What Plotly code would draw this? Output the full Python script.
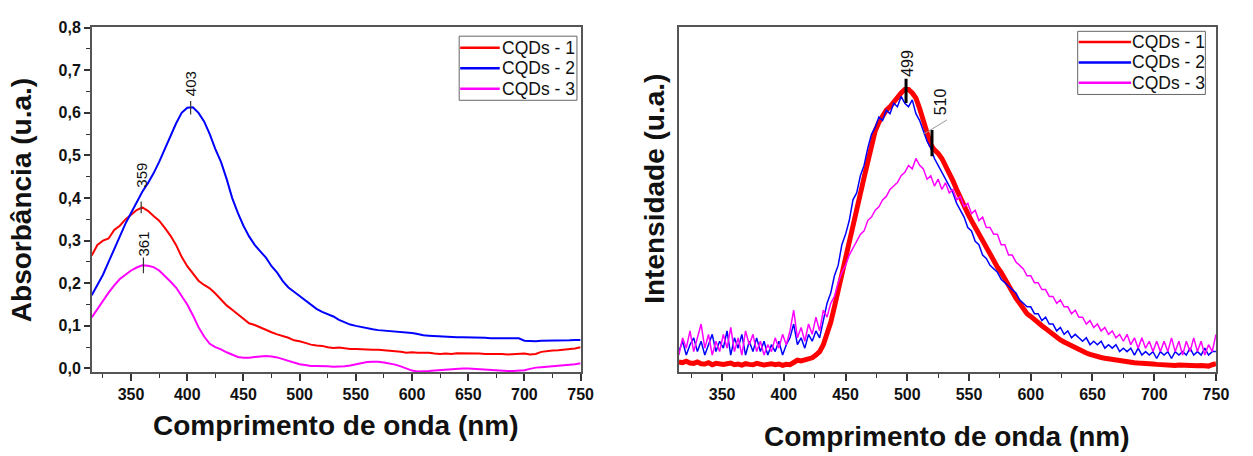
import plotly.graph_objects as go

# ---------------- data ----------------
wl_abs = list(range(315, 755, 5))
abs_cqd1 = [0.265, 0.29, 0.30, 0.305, 0.325, 0.335, 0.35, 0.36, 0.372, 0.378,
            0.37, 0.358, 0.347, 0.33, 0.312, 0.29, 0.262, 0.24, 0.222, 0.206,
            0.196, 0.188, 0.176, 0.162, 0.148, 0.138, 0.128, 0.118, 0.106, 0.102,
            0.096, 0.09, 0.085, 0.08, 0.076, 0.072, 0.066, 0.064, 0.06, 0.056,
            0.054, 0.053, 0.05, 0.048, 0.049, 0.047, 0.046, 0.046, 0.045, 0.045,
            0.044, 0.044, 0.043, 0.042, 0.041, 0.039, 0.037, 0.038, 0.037, 0.037,
            0.037, 0.035, 0.034, 0.035, 0.034, 0.036, 0.036, 0.035, 0.036, 0.035,
            0.034, 0.034, 0.035, 0.034, 0.033, 0.034, 0.035, 0.035, 0.033, 0.034,
            0.039, 0.041, 0.042, 0.043, 0.044, 0.046, 0.047, 0.05]
abs_cqd2 = [0.172, 0.195, 0.22, 0.25, 0.28, 0.31, 0.34, 0.365, 0.39, 0.415,
            0.435, 0.458, 0.485, 0.515, 0.545, 0.575, 0.6, 0.612, 0.613, 0.6,
            0.58, 0.55, 0.515, 0.485, 0.445, 0.4, 0.365, 0.335, 0.31, 0.29,
            0.275, 0.26, 0.24, 0.225, 0.205, 0.19, 0.18, 0.17, 0.16, 0.15,
            0.14, 0.133, 0.127, 0.122, 0.114, 0.108, 0.103, 0.1, 0.097, 0.094,
            0.092, 0.09, 0.089, 0.087, 0.086, 0.085, 0.084, 0.083, 0.081, 0.078,
            0.077, 0.076, 0.075, 0.074, 0.074, 0.073, 0.073, 0.073, 0.072, 0.072,
            0.072, 0.071, 0.071, 0.071, 0.071, 0.071, 0.071, 0.065, 0.064, 0.064,
            0.065, 0.065, 0.065, 0.066, 0.066, 0.066, 0.067, 0.067]
abs_cqd3 = [0.12, 0.14, 0.16, 0.178, 0.195, 0.21, 0.22, 0.23, 0.237, 0.242,
            0.241, 0.238, 0.23, 0.218, 0.204, 0.19, 0.17, 0.15, 0.125, 0.097,
            0.075, 0.058, 0.05, 0.045, 0.038, 0.032, 0.027, 0.025, 0.025, 0.027,
            0.028, 0.029, 0.028, 0.026, 0.022, 0.018, 0.014, 0.01, 0.008, 0.006,
            0.006, 0.006, 0.005, 0.004, 0.004, 0.005, 0.007, 0.01, 0.013, 0.015,
            0.016, 0.016, 0.014, 0.012, 0.009, 0.005, 0.0, -0.005, -0.007, -0.007,
            -0.006, -0.005, -0.004, -0.003, -0.001, 0.0, 0.0, 0.0, -0.001, -0.002,
            -0.003, -0.004, -0.005, -0.005, -0.006, -0.006, -0.005, -0.004, -0.001, 0.002,
            0.003, 0.004, 0.005, 0.006, 0.007, 0.008, 0.01, 0.012]

abs_peak_x = [359, 403, 361]
abs_peak_y = [0.378, 0.612, 0.242]
abs_peak_lbl = ["359", "403", "361"]

wl_pl = list(range(315, 753, 3))
pl_cqd1 = [0.03, 0.028, 0.032, 0.027, 0.026, 0.03, 0.025, 0.024, 0.028, 0.022,
           0.026, 0.024, 0.023, 0.025, 0.027, 0.022, 0.024, 0.021, 0.025, 0.023,
           0.022, 0.026, 0.024, 0.021, 0.023, 0.025, 0.022, 0.024, 0.02, 0.023,
           0.022, 0.03, 0.035, 0.033, 0.035, 0.038, 0.042, 0.05, 0.06, 0.08,
           0.11, 0.145, 0.19, 0.235, 0.285, 0.33, 0.375, 0.42, 0.47, 0.52,
           0.565, 0.61, 0.66, 0.7, 0.725, 0.745, 0.76, 0.77, 0.785, 0.8,
           0.81, 0.82, 0.82, 0.81, 0.795, 0.765, 0.73, 0.69, 0.66, 0.645,
           0.635, 0.62, 0.6, 0.575, 0.555, 0.53, 0.505, 0.48, 0.46, 0.44,
           0.42, 0.4, 0.38, 0.36, 0.345, 0.325, 0.305, 0.29, 0.27, 0.25,
           0.235, 0.215, 0.2, 0.185, 0.17, 0.162, 0.152, 0.143, 0.135, 0.127,
           0.118, 0.11, 0.102, 0.094, 0.088, 0.082, 0.077, 0.071, 0.066, 0.061,
           0.056, 0.052, 0.048, 0.046, 0.043, 0.041, 0.039, 0.037, 0.036, 0.034,
           0.032, 0.03, 0.03, 0.028, 0.027, 0.027, 0.025, 0.024, 0.024, 0.023,
           0.022, 0.022, 0.021, 0.021, 0.02, 0.021, 0.02, 0.02, 0.019, 0.02,
           0.019, 0.02, 0.019, 0.018, 0.022, 0.025]
pl_cqd2 = [0.06, 0.09, 0.05, 0.08, 0.1, 0.06, 0.09, 0.05, 0.08, 0.11,
           0.06, 0.09, 0.07, 0.12, 0.05, 0.1, 0.07, 0.11, 0.05, 0.09,
           0.06, 0.1, 0.06, 0.09, 0.05, 0.08, 0.06, 0.09, 0.05, 0.08,
           0.1, 0.14, 0.08, 0.1, 0.07, 0.11, 0.09, 0.12, 0.1, 0.15,
           0.2, 0.23, 0.28, 0.31, 0.37, 0.4, 0.44, 0.5, 0.52, 0.57,
           0.6, 0.65, 0.69, 0.71, 0.74, 0.73, 0.76, 0.75, 0.78, 0.77,
           0.8, 0.78, 0.77, 0.79, 0.75, 0.73, 0.7, 0.67, 0.65, 0.62,
           0.6, 0.58, 0.56, 0.54, 0.52, 0.49, 0.47, 0.45, 0.42, 0.41,
           0.38, 0.37, 0.34, 0.33, 0.31, 0.3, 0.29, 0.27, 0.26, 0.25,
           0.24, 0.23, 0.21, 0.2, 0.19, 0.19, 0.17, 0.17, 0.15, 0.16,
           0.14, 0.14, 0.12, 0.13, 0.11, 0.12, 0.1, 0.11, 0.1, 0.09,
           0.1, 0.08, 0.09, 0.08, 0.09, 0.07, 0.08, 0.07, 0.08, 0.06,
           0.07, 0.06, 0.07, 0.05, 0.07, 0.05, 0.06, 0.05, 0.06, 0.04,
           0.06, 0.05, 0.06, 0.04, 0.06, 0.05, 0.06, 0.05, 0.07, 0.05,
           0.06, 0.05, 0.07, 0.05, 0.06, 0.06]
pl_cqd3 = [0.05, 0.1, 0.07, 0.12, 0.06, 0.1, 0.14, 0.07, 0.11, 0.05,
           0.09, 0.06, 0.11, 0.07, 0.13, 0.06, 0.1, 0.05, 0.12, 0.08,
           0.11, 0.06, 0.09, 0.05, 0.08, 0.06, 0.1, 0.07, 0.11, 0.08,
           0.12, 0.18, 0.1, 0.13, 0.09, 0.14, 0.11, 0.16, 0.12, 0.18,
           0.16, 0.2, 0.22, 0.26, 0.29, 0.31, 0.34, 0.36, 0.38, 0.4,
           0.41, 0.44, 0.45, 0.47, 0.48, 0.5, 0.51, 0.53, 0.54, 0.55,
           0.57, 0.58, 0.6, 0.59, 0.62, 0.6, 0.59, 0.56, 0.57, 0.54,
           0.56, 0.53, 0.55, 0.52, 0.53, 0.5, 0.51, 0.48, 0.49, 0.46,
           0.47, 0.44, 0.45, 0.42, 0.42, 0.4, 0.4, 0.37, 0.37, 0.34,
           0.34, 0.32, 0.31, 0.3, 0.28, 0.28, 0.26, 0.26, 0.24, 0.24,
           0.22, 0.22, 0.2, 0.21, 0.19, 0.19, 0.17, 0.18, 0.16, 0.16,
           0.14, 0.15, 0.13, 0.14, 0.12, 0.13, 0.11, 0.12, 0.1, 0.11,
           0.09, 0.11, 0.08, 0.1, 0.07, 0.1, 0.07, 0.09, 0.06, 0.09,
           0.06, 0.09, 0.06, 0.1, 0.06, 0.09, 0.05, 0.09, 0.06, 0.1,
           0.06, 0.09, 0.05, 0.08, 0.06, 0.11]

pl_peak_x = [499, 520]
pl_peak_y = [0.82, 0.666]
pl_peak_lbl = ["499", "510"]

series_names = ["CQDs - 1", "CQDs - 2", "CQDs - 3"]
series_colors = ["#FF0000", "#0000FF", "#FF00FF"]

for s in (abs_cqd1, abs_cqd2, abs_cqd3):
    assert len(s) == len(wl_abs), len(s)
for s in (pl_cqd1, pl_cqd2, pl_cqd3):
    assert len(s) == len(wl_pl), len(s)

# ---------------- figure ----------------
W, H = 1253, 456
FONT = "Arial, Liberation Sans, sans-serif"
fig = go.Figure()

for name, col, ys in zip(series_names, series_colors, [abs_cqd1, abs_cqd2, abs_cqd3]):
    fig.add_trace(go.Scatter(x=wl_abs, y=ys, mode="lines", name=name,
                             line=dict(color=col, width=2), xaxis="x", yaxis="y",
                             showlegend=False))

pl_widths = [5, 1.5, 1.5]
for name, col, ys, w in zip(series_names, series_colors, [pl_cqd1, pl_cqd2, pl_cqd3], pl_widths):
    fig.add_trace(go.Scatter(x=wl_pl, y=ys, mode="lines", name=name,
                             line=dict(color=col, width=w), xaxis="x2", yaxis="y2",
                             showlegend=False))

# pixel geometry
Y_TOP, Y_BOT = 20, 375
L_X0, L_X1 = 92.7, 586.7
R_X0, R_X1 = 686, 1228.7
abs_range = [-0.009, 0.8005]
pl_range = [0, 1]
abs_px = (Y_BOT - Y_TOP) / (abs_range[1] - abs_range[0])
pl_px = (Y_BOT - Y_TOP) / (pl_range[1] - pl_range[0])

axis_common = dict(showline=True, linecolor="#555555", linewidth=1.5, mirror=True,
                   showgrid=False, zeroline=False)
xtick = dict(ticks="outside", ticklen=7, tickwidth=1.5, tickcolor="#333333",
             tickfont=dict(family=FONT, size=16, color="#111111", weight="bold"),
             tick0=350, dtick=50,
             minor=dict(ticks="outside", ticklen=4, tickwidth=1.2, tickcolor="#333333",
                        tick0=325, dtick=25))

fig.update_layout(
    width=W, height=H, margin=dict(l=0, r=0, t=0, b=0),
    paper_bgcolor="white", plot_bgcolor="white",
    separators=", ",
    showlegend=False,
    xaxis=dict(domain=[L_X0 / W, L_X1 / W], range=[315, 750], anchor="y",
               **axis_common, **xtick),
    yaxis=dict(domain=[(H - Y_BOT) / H, (H - Y_TOP) / H], range=abs_range, anchor="x",
               ticks="outside", ticklen=6, tickwidth=1.5, tickcolor="#333333",
               tickfont=dict(family=FONT, size=16, color="#111111", weight="bold"),
               tick0=0, dtick=0.1, tickformat=".1f",
               minor=dict(ticks="outside", ticklen=4, tickwidth=1.2, tickcolor="#333333",
                          tick0=0.05, dtick=0.1),
               **axis_common),
    xaxis2=dict(domain=[R_X0 / W, R_X1 / W], range=[315, 750], anchor="y2",
                **axis_common, **xtick),
    yaxis2=dict(domain=[(H - Y_BOT) / H, (H - Y_TOP) / H], range=pl_range, anchor="x2",
                showticklabels=False, ticks="", **axis_common),
)

# axis titles
title_font = dict(family=FONT, size=28, color="#111111", weight="bold")
fig.add_annotation(text="Absorbância (u.a.)", xref="paper", yref="paper",
                   x=22 / W, y=1 - 198 / H, textangle=-90, showarrow=False,
                   xanchor="center", yanchor="middle", font=title_font)
fig.add_annotation(text="Comprimento de onda (nm)", xref="paper", yref="paper",
                   x=(L_X0 + L_X1) / 2 / W, y=1 - 430 / H, showarrow=False,
                   xanchor="center", yanchor="middle", font=title_font)
fig.add_annotation(text="Intensidade (u.a.)", xref="paper", yref="paper",
                   x=662 / W, y=1 - 186 / H, textangle=-90, showarrow=False,
                   xanchor="center", yanchor="middle", font=title_font)
fig.add_annotation(text="Comprimento de onda (nm)", xref="paper", yref="paper",
                   x=(R_X0 + R_X1) / 2 / W, y=1 - 441 / H, showarrow=False,
                   xanchor="center", yanchor="middle", font=title_font)

# legends (drawn as boxes with sample lines and text, in pixel layout)
def draw_legend(box, rows_y, line_x, text_x, fsize):
    x0, y0, x1, y1 = box
    fig.add_shape(type="rect", xref="paper", yref="paper",
                  x0=x0 / W, x1=x1 / W, y0=1 - y1 / H, y1=1 - y0 / H,
                  line=dict(color="#666666", width=1), fillcolor="white", layer="above")
    for name, col, ry in zip(series_names, series_colors, rows_y):
        fig.add_shape(type="line", xref="paper", yref="paper",
                      x0=line_x[0] / W, x1=line_x[1] / W, y0=1 - ry / H, y1=1 - ry / H,
                      line=dict(color=col, width=2.5), layer="above")
        fig.add_annotation(text=name, xref="paper", yref="paper", x=text_x / W,
                           y=1 - ry / H, xanchor="left", yanchor="middle", showarrow=False,
                           font=dict(family=FONT, size=fsize, color="#111111"))

draw_legend((464, 29, 583, 95), [41, 62, 83], (465, 505), 505, 17.5)
draw_legend((1089, 24, 1218, 89), [35, 56, 77], (1090, 1143), 1142, 17.5)

# peak markers (left)
lbl_font = dict(family=FONT, size=15, color="#111111")
tick_half = [6, 7, 8]
lbl_gap = [18, 10, 7]
for px_, py_, lb, th, gap in zip(abs_peak_x, abs_peak_y, abs_peak_lbl, tick_half, lbl_gap):
    fig.add_shape(type="line", xref="x", yref="y", x0=px_, x1=px_,
                  y0=py_ - th / abs_px, y1=py_ + th / abs_px,
                  line=dict(color="#333333", width=1.2))
    fig.add_annotation(text=lb, xref="x", yref="y", x=px_, y=py_ + gap / abs_px,
                       textangle=-90, showarrow=False, xanchor="center", yanchor="bottom",
                       font=lbl_font)

# peak markers (right)
lbl_font2 = dict(family=FONT, size=16, color="#111111")
fig.add_shape(type="line", xref="x2", yref="y2", x0=pl_peak_x[0], x1=pl_peak_x[0],
              y0=pl_peak_y[0] - 14 / pl_px, y1=pl_peak_y[0] + 11 / pl_px,
              line=dict(color="black", width=3))
fig.add_annotation(text=pl_peak_lbl[0], xref="x2", yref="y2", x=pl_peak_x[0] + 1.2,
                   y=pl_peak_y[0] + 11 / pl_px, textangle=-90, showarrow=False,
                   xanchor="center", yanchor="bottom", font=lbl_font2)
fig.add_shape(type="line", xref="x2", yref="y2", x0=pl_peak_x[1], x1=pl_peak_x[1],
              y0=pl_peak_y[1] - 14 / pl_px, y1=pl_peak_y[1] + 13 / pl_px,
              line=dict(color="black", width=3))
fig.add_shape(type="line", xref="x2", yref="y2", x0=513, x1=532.2,
              y0=0.69, y1=0.732, line=dict(color="#999999", width=1))
fig.add_annotation(text=pl_peak_lbl[1], xref="x2", yref="y2", x=527.1,
                   y=0.74, textangle=-90, showarrow=False,
                   xanchor="center", yanchor="bottom", font=lbl_font2)

fig.write_html("out.html")
